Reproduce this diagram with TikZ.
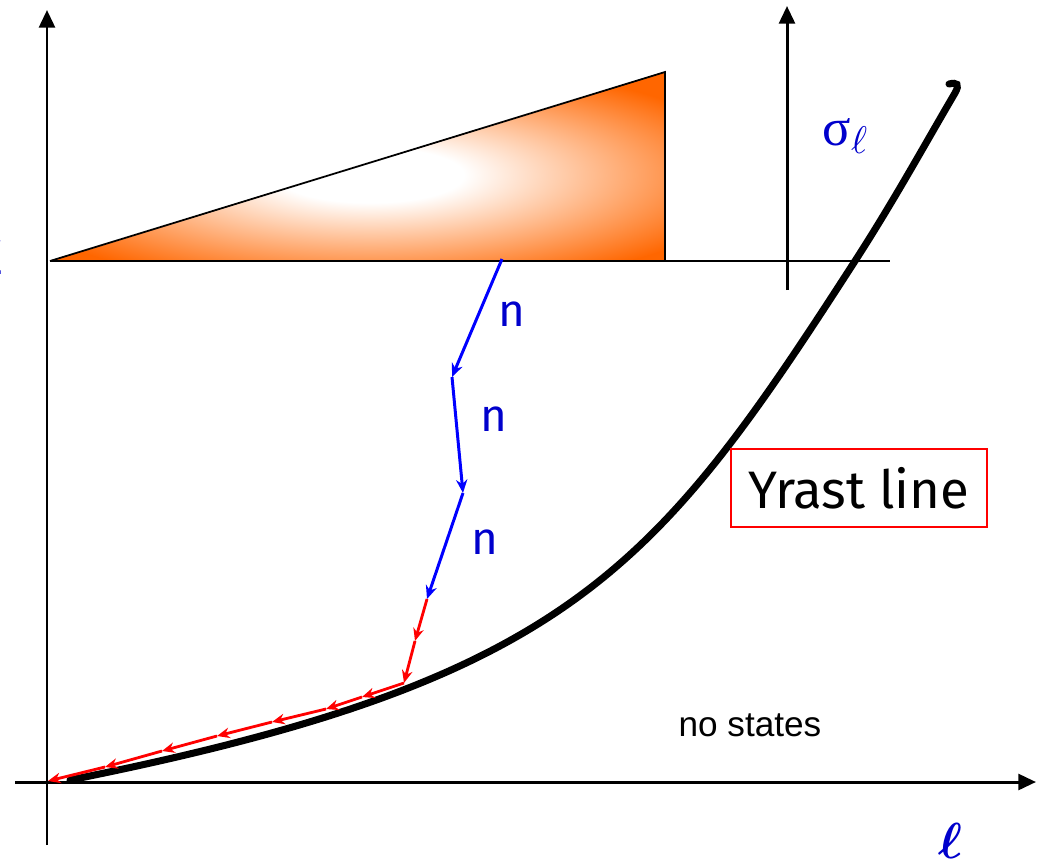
\documentclass[tikz,border=0pt]{standalone}
\usepackage{amsmath,bm}
\usepackage{fontspec}
\setmainfont{Fira Sans}
\newfontfamily\arialfont{Liberation Sans}
\newfontfamily\timesfont{Liberation Serif}
\usetikzlibrary{arrows.meta}
\definecolor{spinorange}{HTML}{FF6600}
\definecolor{labelblue}{HTML}{0000CC}
\pgfdeclareradialshading{spinglow}{\pgfpoint{0bp}{0bp}}{color(0bp)=(white); color(6bp)=(white); color(25bp)=(spinorange); color(50bp)=(spinorange)}

\begin{document}
\begin{tikzpicture}[x=0.01cm,y=-0.01cm,
  axis/.style={line width=0.85pt,-{Triangle[length=5pt,width=4.5pt]}},
  neutron/.style={blue,line width=0.85pt,-{Stealth[length=3.8pt,width=3.2pt]}},
  gammaray/.style={red,line width=0.8pt,-{Stealth[length=3.6pt,width=3pt]}},
  lbl/.style={text=labelblue,inner sep=0pt}]
\useasboundingbox (0,0) rectangle (1048,866);
% axes
\coordinate (o) at (47,782);
\coordinate (ybot) at (47,845);
\coordinate (ytop) at (47,10);
\coordinate (xleft) at (15,782);
\coordinate (xright) at (1036,782);
\draw[axis] (ybot) -- (ytop);
\draw[axis] (xleft) -- (xright);
% spin distribution
\coordinate (tl) at (50,261);
\coordinate (tt) at (665,72);
\coordinate (tr) at (665,261);
\coordinate (hend) at (890,261);
\coordinate (sbot) at (787,290);
\coordinate (stop) at (787,6);
\fill[spinorange] (tl) -- (tt) -- (tr) -- cycle;
\begin{scope}
\clip (tl) -- (tt) -- (tr) -- cycle;
\shade[shading=spinglow] (370,175) ellipse (390 and 115);
\end{scope}
\draw[line width=0.5pt] (tl) -- (tt) -- (tr);
\draw[line width=0.6pt] (tl) -- (hend);
\draw[axis] (sbot) -- (stop);
\node[lbl,font=\fontsize{15}{15}\timesfont] (sig) at (845,136) {σ\raisebox{-0.35ex}{\fontsize{11}{11}\selectfont$\ell$}};
% yrast line
\coordinate (y0) at (70,780);
\coordinate (y1) at (855,261);
\coordinate (y2) at (955,93);
\draw[line width=2pt,line cap=round] (y0) .. controls (570,680) and (655,571) .. (y1)
  .. controls (895,199) and (925,144) .. (y2) .. controls (960,84) and (957,82) .. (949,84);
\node[draw=red,line width=0.6pt,inner sep=0pt,
  minimum width=256*0.01cm,minimum height=78*0.01cm] (yrast) at (859,488) {\fontsize{15}{15}\selectfont Yrast line};
\node[font=\fontsize{10}{10}\arialfont] (nost) at (750,725) {no states};
% neutron emission
\coordinate (b0) at (502,259);
\coordinate (b1) at (452,377);
\coordinate (b2) at (463,493);
\coordinate (b3) at (427,599);
\draw[neutron] (b0) -- (b1);
\draw[neutron] (b1) -- (b2);
\draw[neutron] (b2) -- (b3);
\node[lbl,font=\fontsize{13}{13}\selectfont] (n1) at (512,314) {n};
\node[lbl,font=\fontsize{13}{13}\selectfont] (n2) at (494,419) {n};
\node[lbl,font=\fontsize{13}{13}\selectfont] (n3) at (485,542) {n};
% gamma cascade
\foreach \i/\p in {0/{427,599},1/{415,641},2/{404,683},3/{362,697},4/{326,709},5/{272,722},6/{217,736},7/{162,751},8/{105,767},9/{48,781}}
  \coordinate (g\i) at (\p);
\foreach \i [evaluate=\i as \j using int(\i+1)] in {0,...,8}
  \draw[gammaray] (g\i) -- (g\j);
\node[lbl,font=\fontsize{15}{15}\selectfont,anchor=base] (ell) at (950,858) {$\boldsymbol{\ell}$};
\node[lbl,font=\fontsize{14}{14}\selectfont,anchor=east] (ex) at (5,258) {E};
\end{tikzpicture}
\end{document}
